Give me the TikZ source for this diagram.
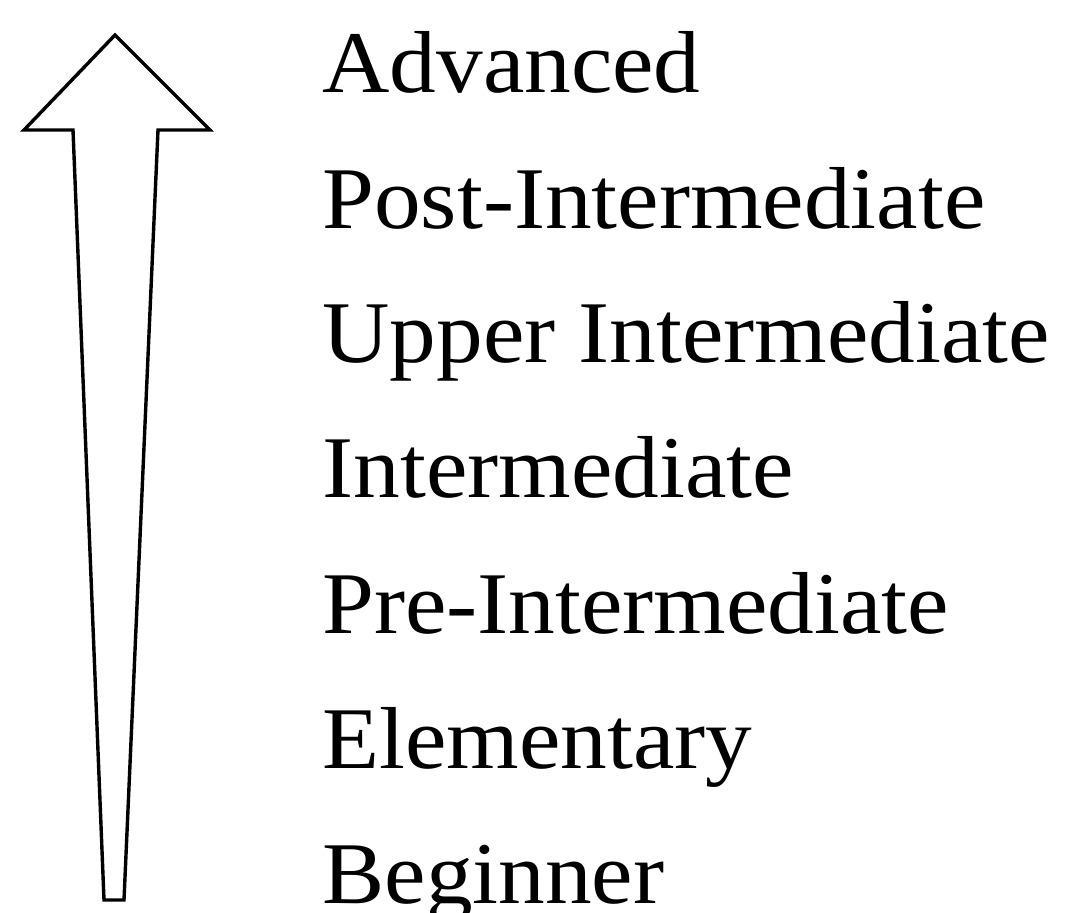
\documentclass[tikz,border=0pt]{standalone}
\usepackage{fontspec}
\setmainfont{Liberation Serif}[FakeStretch=1.06]
\usepackage{tikz}
\tikzset{level/.style={anchor=base west,inner sep=0pt,font=\fontsize{44}{44}\selectfont}}

\begin{document}
\begin{tikzpicture}[x=0.5pt, y=-0.5pt]
    \useasboundingbox (0, 0) rectangle (1068, 912);
    % tapering arrow
    \draw[line width=1.7pt, line join=miter] (115, 35) coordinate (tip) -- (210, 130) -- (158, 130) -- (124, 900) -- (104, 900) -- (73, 130) -- (24, 130) -- cycle;
    \node[level] (adv) at (322, 92) {Advanced};
    \node[level] (post) at (322, 228) {Post-Intermediate};
    \node[level] (upper) at (322, 362) {Upper Intermediate};
    \node[level] (inter) at (322, 497) {Intermediate};
    \node[level] (pre) at (322, 633) {Pre-Intermediate};
    \node[level] (elem) at (322, 768) {Elementary};
    \node[level] (beg) at (322, 903) {Beginner};
  \end{tikzpicture}
\end{document}
